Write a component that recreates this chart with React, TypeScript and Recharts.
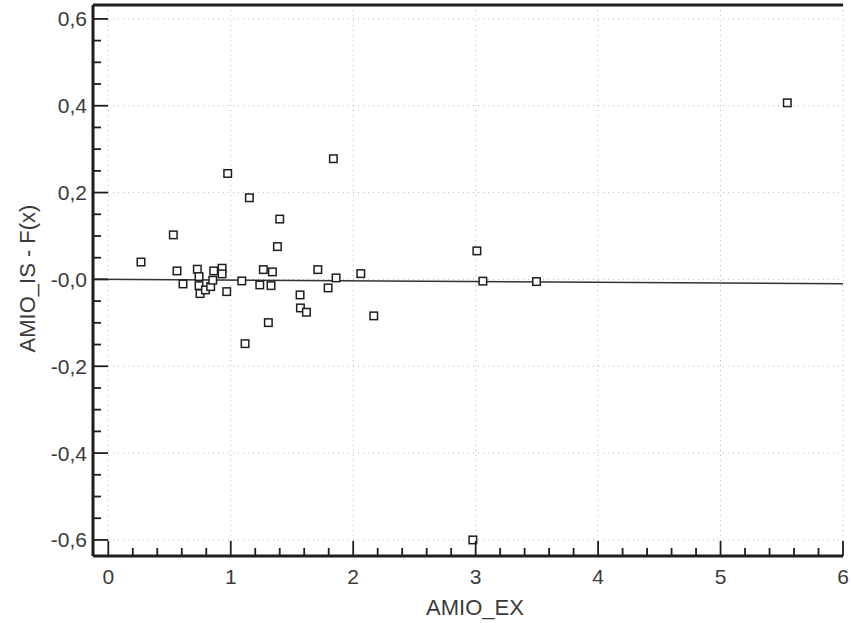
import {
  ReferenceLine,
  Scatter,
  ScatterChart,
  XAxis,
  YAxis,
} from "recharts";

// residuals: AMIO_EX vs AMIO_IS - F(x)
const amioEx = [
  0.267, 0.531, 0.561, 0.61, 0.727, 0.741, 0.741, 0.749, 0.793, 0.836,
  0.853, 0.861, 0.929, 0.929, 0.967, 0.975, 1.09, 1.117, 1.152, 1.237,
  1.266, 1.307, 1.329, 1.34, 1.381, 1.4, 1.566, 1.569, 1.618, 1.711,
  1.795, 1.838, 1.86, 2.062, 2.168, 2.977, 3.01, 3.059, 3.497, 5.545,
];
const residual = [
  0.04, 0.1025, 0.0196, -0.0104, 0.0235, 0.0065, -0.0143, -0.0327, -0.0242, -0.0166,
  -0.0019, 0.0196, 0.0258, 0.0127, -0.0281, 0.244, -0.0035, -0.148, 0.188, -0.0127,
  0.0226, -0.0995, -0.0143, 0.0173, 0.0756, 0.139, -0.0357, -0.0657, -0.0756, 0.0226,
  -0.0196, 0.278, 0.0035, 0.0134, -0.084, -0.6, 0.0657, -0.004, -0.005, 0.4067,
];

// fitted line end points
const fitX = [-0.125, 6];
const fitY = [0.0005, -0.0102];

const xDomain = [-0.125, 6];
const yDomain = [-0.637, 0.632];

const xTicks = [
  0, 0.2, 0.4, 0.6, 0.8, 1, 1.2, 1.4, 1.6, 1.8, 2, 2.2, 2.4, 2.6, 2.8, 3,
  3.2, 3.4, 3.6, 3.8, 4, 4.2, 4.4, 4.6, 4.8, 5, 5.2, 5.4, 5.6, 5.8, 6,
];
const xMajor = [0, 1, 2, 3, 4, 5, 6];
const xLabels = ["0", "1", "2", "3", "4", "5", "6"];

const yTicks = [
  -0.6, -0.55, -0.5, -0.45, -0.4, -0.35, -0.3, -0.25, -0.2, -0.15, -0.1, -0.05,
  0, 0.05, 0.1, 0.15, 0.2, 0.25, 0.3, 0.35, 0.4, 0.45, 0.5, 0.55, 0.6,
];
const yMajor = [-0.6, -0.4, -0.2, 0, 0.2, 0.4, 0.6];
const yLabels = ["-0,6", "-0,4", "-0,2", "-0,0", "0,2", "0,4", "0,6"];

const points = amioEx.map((x, i) => ({ x, y: residual[i] }));
const fitSegment = fitX.map((x, i) => ({ x, y: fitY[i] }));

const INK = "#1e1e1e";
const TEXT = "#3a3a3a";
const GRID = "#b8b8b8";
const FONT = "'Liberation Sans', Arial, sans-serif";
const FS = 21;

const majorIdx = (list: number[], v: number) =>
  list.findIndex((m) => Math.abs(m - v) < 1e-6);

function XTick(props: any) {
  const { x, y, payload } = props;
  const idx = majorIdx(xMajor, payload.value);
  const len = idx >= 0 ? 15 : 8;
  return (
    <g>
      <line x1={x} x2={x} y1={y} y2={y - len} stroke={INK} strokeWidth={1.8} />
      {idx >= 0 && (
        <text
          x={x}
          y={y + 28}
          textAnchor="middle"
          fontSize={FS}
          fontFamily={FONT}
          fill={TEXT}
        >
          {xLabels[idx]}
        </text>
      )}
    </g>
  );
}

function YTick(props: any) {
  const { x, y, payload } = props;
  const idx = majorIdx(yMajor, payload.value);
  const len = idx >= 0 ? 15 : 8;
  return (
    <g>
      <line x1={x} x2={x + len} y1={y} y2={y} stroke={INK} strokeWidth={1.8} />
      {idx >= 0 && (
        <text
          x={x - 6}
          y={y + 7.5}
          textAnchor="end"
          fontSize={FS}
          fontFamily={FONT}
          fill={TEXT}
        >
          {yLabels[idx]}
        </text>
      )}
    </g>
  );
}

function SquareMark(props: any) {
  const { cx, cy } = props;
  return (
    <rect
      x={cx - 3.75}
      y={cy - 3.75}
      width={7.5}
      height={7.5}
      fill="#fff"
      stroke={INK}
      strokeWidth={1.5}
    />
  );
}

function YTitle(props: any) {
  const { viewBox } = props;
  const cy = viewBox.y + viewBox.height / 2 - 2;
  return (
    <text
      x={27}
      y={cy}
      transform={`rotate(-90, 27, ${cy})`}
      textAnchor="middle"
      dominantBaseline="central"
      fontSize={FS + 1}
      fontFamily={FONT}
      fill={TEXT}
    >
      AMIO_IS - F(x)
    </text>
  );
}

export default function App() {
  return (
    <div style={{ position: "absolute", left: 0, top: 0, background: "#fff" }}>
      <ScatterChart
        width={851}
        height={623}
        margin={{ top: 5, right: 8, bottom: 0, left: 0 }}
      >
        {xMajor.map((v) => (
          <ReferenceLine
            key={`gx${v}`}
            x={v}
            stroke={GRID}
            strokeDasharray="1 4"
          />
        ))}
        {yMajor.map((v) => (
          <ReferenceLine
            key={`gy${v}`}
            y={v}
            stroke={GRID}
            strokeDasharray="1 4"
          />
        ))}
        <XAxis
          type="number"
          dataKey="x"
          domain={xDomain}
          allowDataOverflow
          ticks={xTicks}
          interval={0}
          tickSize={0}
          tickMargin={0}
          tickLine={false}
          tick={<XTick />}
          height={67}
          axisLine={{ stroke: INK, strokeWidth: 3 }}
          label={{
            value: "AMIO_EX",
            position: "insideBottom",
            offset: 8,
            dx: 7,
            fontSize: FS + 1,
            fontFamily: FONT,
            fill: TEXT,
          }}
        />
        <YAxis
          type="number"
          dataKey="y"
          domain={yDomain}
          allowDataOverflow
          ticks={yTicks}
          interval={0}
          tickSize={0}
          tickMargin={0}
          tickLine={false}
          tick={<YTick />}
          width={93}
          axisLine={{ stroke: INK, strokeWidth: 3 }}
          label={<YTitle />}
        />
        <ReferenceLine y={yDomain[1]} stroke={INK} strokeWidth={3} />
        <ReferenceLine
          segment={fitSegment}
          stroke="#333"
          strokeWidth={1.5}
          ifOverflow="extendDomain"
        />
        <Scatter
          data={points}
          shape={<SquareMark />}
          isAnimationActive={false}
        />
      </ScatterChart>
    </div>
  );
}
